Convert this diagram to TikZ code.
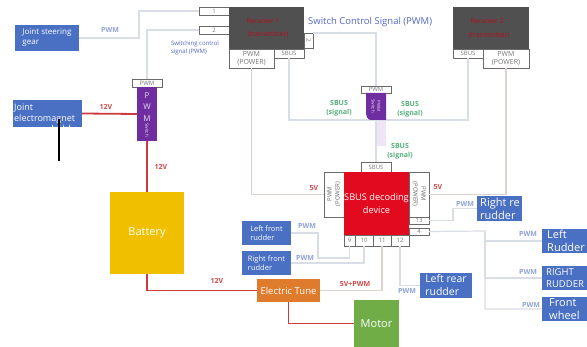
\documentclass[tikz,border=0pt]{standalone}
\usepackage{fontspec}
\setmainfont{Open Sans}
\definecolor{bluebox}{HTML}{4A70C4}
\definecolor{batt}{HTML}{F0C000}
\definecolor{redbox}{HTML}{E20A1E}
\definecolor{purp}{HTML}{6F2DA0}
\definecolor{orng}{HTML}{DF7B2C}
\definecolor{grn}{HTML}{70AD47}
\definecolor{dark}{HTML}{505050}
\definecolor{sigline}{HTML}{D9DDE6}
\definecolor{powline}{HTML}{DDD2CE}
\definecolor{redline}{HTML}{CC3A42}
\definecolor{boxline}{HTML}{6A6A6A}
\definecolor{labblue}{HTML}{8FA3D4}
\definecolor{labdeep}{HTML}{5468C8}
\definecolor{labgreen}{HTML}{55B07C}
\definecolor{labred}{HTML}{D24A4A}
\definecolor{darkred}{HTML}{B01020}
\newcommand{\bx}[7][]{%
  \pgfmathsetmacro{\bxcx}{(#3+#5)/2}\pgfmathsetmacro{\bxcy}{(#4+#6)/2}%
  \pgfmathsetmacro{\bxw}{#5-#3}\pgfmathsetmacro{\bxh}{#6-#4}%
  \node[blk,minimum width=\bxw pt,minimum height=\bxh pt,#1] (#2) at (\bxcx,\bxcy) {#7};}
\tikzset{
  blk/.style={inner sep=0pt,outer sep=0pt,align=center,font=\fontsize{11}{13}\selectfont,text=white},
  port/.style={draw=boxline,line width=0.8pt,fill=white,text=boxline!90,font=\fontsize{7}{8.5}\selectfont},
  thinport/.style={port,font=\fontsize{6}{6.5}\selectfont},
  bluefill/.style={fill=bluebox,align=left},
  sig/.style={draw=sigline,line width=1.2pt},
  pow/.style={draw=powline,line width=1.2pt},
  hot/.style={draw=redline,line width=1.8pt},
  lab/.style={text=labblue,font=\fontsize{7}{8}\selectfont\bfseries,inner sep=0pt},
  labg/.style={text=labgreen,font=\fontsize{7}{9}\selectfont\bfseries,inner sep=0pt,align=center},
  labr/.style={text=labred,font=\fontsize{7}{8}\selectfont\bfseries,inner sep=0pt},
  ghost/.style={text=darkred,font=\fontsize{7}{8}\selectfont,inner sep=0pt}
}
\begin{document}
\begin{tikzpicture}[x=1pt,y=-1pt]
\useasboundingbox (0,0) rectangle (587,347);
\fill[white] (0,0) rectangle (587,347);
% nodes
\bx[bluefill,font=\fontsize{8}{10}\selectfont]{gear}{15}{25}{79}{51}{Joint steering\\gear}
\bx[thinport]{pa}{199}{7}{229}{15}{1}
\bx[thinport]{pb}{199}{26}{229}{34}{2}
\bx[fill=dark]{rxa}{229}{7}{304}{49}{}
\bx[port]{rapow}{229}{49}{274}{68}{PWM\\(POWER)}
\bx[thinport]{rasb}{274}{49}{304}{58}{SBUS}
\bx[thinport,rotate=-90,minimum width=15pt,minimum height=9pt]{rat}{304}{33}{313}{48}{2}
\bx[fill=dark]{rxb}{453}{7}{529}{49}{}
\bx[thinport]{rbsb}{453}{49}{483}{58}{SBUS}
\bx[port]{rbpow}{483}{49}{529}{68}{PWM\\(POWER)}
\bx[thinport]{swp}{361}{86}{391}{93}{PWM}
\bx[thinport]{desb}{361}{162}{391}{172}{SBUS}
\bx[port]{depl}{324}{172}{344}{217}{}
\bx[port]{depr}{409}{172}{429}{217}{}
\bx[thinport]{d13}{409}{217}{429}{224}{13}
\bx[thinport]{d4}{409}{228}{429}{235}{4}
\bx[thinport]{d9}{344}{235}{355}{246}{9}
\bx[thinport]{d10}{355}{235}{373}{246}{10}
\bx[thinport]{d11}{373}{235}{391}{246}{11}
\bx[thinport]{d12}{391}{235}{409}{246}{12}
\bx[fill=redbox,font=\fontsize{9.2}{13.5}\selectfont]{dec}{344}{172}{409}{235}{SBUS decoding\\device}
\bx[thinport]{lp}{132}{79}{162}{87}{PWM}
\bx[fill=purp]{lsw}{137}{87}{157}{141}{}
\bx[bluefill,font=\fontsize{9}{11}\selectfont]{mag}{13}{100}{82}{127}{}
\bx[fill=batt]{bat}{110}{192}{184}{274}{Battery}
\bx[bluefill,font=\fontsize{7.5}{9}\selectfont]{lfr}{242}{221}{291}{245}{Left front\\rudder}
\bx[bluefill,font=\fontsize{7.5}{9}\selectfont]{rfr}{242}{251}{291}{275}{Right front\\rudder}
\bx[fill=orng,font=\fontsize{9.5}{11}\selectfont]{esc}{257}{279}{320}{302}{Electric Tune}
\bx[fill=grn,font=\fontsize{11}{13}\selectfont]{mot}{354}{300}{399}{347}{Motor}
\bx[bluefill,font=\fontsize{10.5}{13}\selectfont]{lrr}{420}{273}{472}{298}{Left rear\\rudder}
\bx[bluefill]{rrr}{477}{196}{522}{221}{}
\bx[bluefill]{lru}{542}{229}{587}{253}{}
\bx[bluefill]{rru}{542}{266}{587}{290}{}
\bx[bluefill]{frw}{542}{297}{587}{321}{}
% connectors
\coordinate (j4) at (485,231);
\fill[purp!12] (376,120) rectangle (386,146);
\draw[sig] (gear.east) -- (139,38) |- (pa.west);
\draw[sig] (pb.west) -| (lp.north);
\draw[sig] (rat.north west) -- (376,33) -- (swp.north);
\draw[sig] (rasb.south) |- (468,120) -- (rbsb.south);
\draw[sig] (376,120) -- (desb.north);
\draw[pow] (rapow.south) |- (depl.west);
\draw[pow] (rbpow.south) |- (depr.east);
\draw[sig] (d13.east) -- (453,220.5) |- (rrr.west);
\draw[sig] (d4.east) -- (j4) |- (frw.west);
\draw[sig] (j4) |- (lru.west);
\draw[sig] (j4) |- (rru.west);
\draw[sig] (d12.south) |- (lrr.west);
\draw[sig] (d9.south) |- (318,258) |- (lfr.east);
\draw[sig] (d10.south) |- (rfr.east);
\draw[pow] (d11.south) |- (esc.east);
\draw[hot] (mag.east) -- (lsw.west);
\draw[hot] (lsw.south) -- (bat.north);
\draw[hot] (bat.south) |- (esc.west);
\draw[hot] (esc.south) |- (mot.west);
% purple switch on the upper line
\fill[purp] (366,93) -- (386,93) -- (386,120) -- (371,120) to[out=180,in=-90] (366,112) -- cycle;
\node[inner sep=0pt,align=center,text=white!85!purp,font=\fontsize{4.5}{5.5}\selectfont,rotate=-90] (swt) at (376,106) {PWM\\Switch};
% text in nodes with own placement
\node[anchor=west,inner sep=0pt,text=white,align=left,font=\fontsize{9}{11}\selectfont] (magt) at (14,114) {Joint\\electromagnet};
\fill[white] (52,127) -- (52,124) arc[start angle=180,end angle=0,x radius=4,y radius=4] -- (60,127) -- cycle;
\fill[white] (63,127) -- (63,124) arc[start angle=180,end angle=0,x radius=3.5,y radius=4] -- (70,127) -- cycle;
\draw[black,line width=1.8pt] (59,119) -- (59,161);
\node[inner sep=0pt,text=white!85!purp,align=center,font=\fontsize{8}{11.5}\selectfont] (lsp) at (147,107) {P\\W\\M};
\node[inner sep=0pt,text=white!85!purp,rotate=-90,font=\fontsize{4.5}{5}\selectfont] (lst) at (147,130) {Switch};
\node[ghost] (rxat1) at (263,21) {Receiver 1};
\node[ghost] (rxat2) at (268,34) {(transmitter)};
\node[ghost] (rxbt1) at (487,21) {Receiver 2};
\node[ghost] (rxbt2) at (489,35) {(transmitter)};
\node[inner sep=0pt,rotate=90,align=center,text=boxline,font=\fontsize{6}{8}\selectfont] (dlt) at (334,194) {PWM\\(POWER)};
\node[inner sep=0pt,rotate=-90,align=center,text=boxline,font=\fontsize{6}{8}\selectfont] (drt) at (419,194) {PWM\\(POWER)};
\node[anchor=west,inner sep=0pt,text=white,align=left,font=\fontsize{11}{13}\selectfont] (rrrt) at (480,208.5) {Right re\\rudder};
\node[anchor=west,inner sep=0pt,text=white,align=left,font=\fontsize{11}{13}\selectfont] (lrut) at (547,241) {Left\\Rudder};
\node[anchor=west,inner sep=0pt,text=white,align=left,font=\fontsize{9.5}{12.5}\selectfont] (rrut) at (546,278) {RIGHT\\RUDDER};
\node[anchor=west,inner sep=0pt,text=white,align=left,font=\fontsize{11}{13}\selectfont] (frwt) at (549,309) {Front\\wheel};
% labels
\node[lab] (l1) at (110,30) {PWM};
\node[text=labdeep,align=left,inner sep=0pt,font=\fontsize{6}{7.5}\selectfont] (l2) at (195,48) {Switching control\\signal (PWM)};
\node[text=labdeep,anchor=west,inner sep=0pt,font=\fontsize{9.5}{11}\selectfont] (l3) at (308,22) {Switch Control Signal (PWM)};
\node[labg] (l4) at (339,108) {SBUS\\(signal)};
\node[labg] (l5) at (410,109) {SBUS\\(signal)};
\node[labg] (l6) at (400,151) {SBUS\\(signal)};
\node[labr] (l7) at (106,107) {12V};
\node[labr] (l8) at (161,167) {12V};
\node[labr] (l9) at (217,281) {12V};
\node[labr] (l10) at (314,188) {5V};
\node[labr] (l11) at (438,187) {5V};
\node[labr] (l12) at (355,284) {5V+PWM};
\node[lab] (l13) at (307,226) {PWM};
\node[lab] (l14) at (305,258) {PWM};
\node[lab] (l15) at (465,204) {PWM};
\node[lab] (l16) at (407,291) {PWM};
\node[lab] (l17) at (528,234) {PWM};
\node[lab] (l18) at (528,272) {PWM};
\node[lab] (l19) at (531,305) {PWM};
\end{tikzpicture}
\end{document}
